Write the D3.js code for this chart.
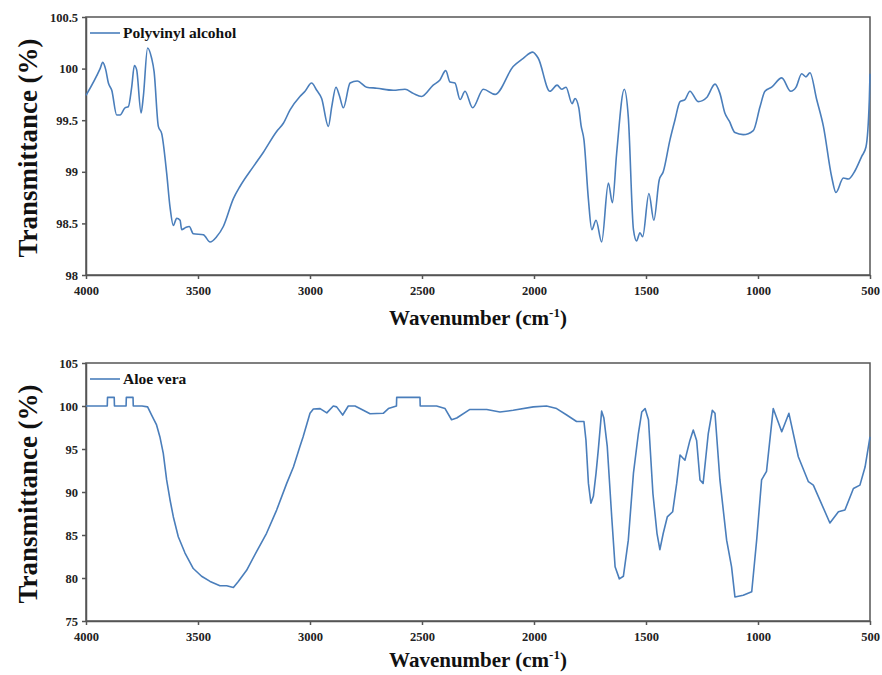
<!DOCTYPE html>
<html>
<head>
<meta charset="utf-8">
<script src="https://cdn.jsdelivr.net/npm/d3@7"></script>
<style>
  body { margin: 0; background: #fff; }
  svg text { font-family: "Liberation Serif", "DejaVu Serif", serif; font-weight: bold; }
</style>
</head>
<body>
<svg id="chart" width="882" height="675"></svg>
<script>
// x ticks shared by both panels
const xTicks = [4000, 3500, 3000, 2500, 2000, 1500, 1000, 500];

// polyvinyl alcohol spectrum (wavenumber, transmittance)
const pvaWave = [4000, 3937, 3925, 3912, 3900, 3885, 3863, 3848, 3826, 3811, 3796, 3784, 3774, 3754, 3744, 3725, 3707, 3696, 3677, 3662, 3640, 3625, 3610, 3595, 3580, 3573, 3555, 3539, 3521, 3476, 3446, 3417, 3387, 3342, 3312, 3253, 3208, 3149, 3119, 3089, 3045, 3022, 2993, 2970, 2948, 2918, 2903, 2884, 2869, 2851, 2821, 2789, 2747, 2702, 2628, 2576, 2539, 2502, 2450, 2420, 2394, 2375, 2353, 2330, 2308, 2274, 2226, 2174, 2093, 2048, 2006, 1981, 1929, 1897, 1876, 1857, 1830, 1817, 1800, 1790, 1777, 1757, 1742, 1723, 1698, 1668, 1650, 1631, 1597, 1579, 1556, 1542, 1527, 1515, 1487, 1465, 1441, 1423, 1393, 1371, 1348, 1326, 1304, 1267, 1229, 1192, 1170, 1148, 1128, 1103, 1066, 1021, 991, 969, 939, 894, 854, 830, 805, 786, 768, 738, 708, 671, 652, 619, 597, 567, 537, 518, 503, 500];
const pvaValue = [99.74, 100.0, 100.06, 99.99, 99.86, 99.79, 99.55, 99.55, 99.62, 99.63, 99.82, 100.03, 99.99, 99.57, 99.73, 100.2, 100.1, 99.97, 99.44, 99.37, 98.99, 98.66, 98.48, 98.55, 98.53, 98.44, 98.46, 98.47, 98.40, 98.39, 98.32, 98.37, 98.47, 98.74, 98.86, 99.05, 99.19, 99.39, 99.47, 99.60, 99.73, 99.78, 99.86, 99.79, 99.71, 99.44, 99.63, 99.82, 99.74, 99.62, 99.86, 99.88, 99.82, 99.81, 99.79, 99.80, 99.76, 99.73, 99.84, 99.89, 99.98, 99.87, 99.86, 99.70, 99.78, 99.62, 99.80, 99.75, 100.02, 100.10, 100.16, 100.10, 99.78, 99.84, 99.80, 99.82, 99.66, 99.71, 99.62, 99.45, 99.31, 98.73, 98.44, 98.53, 98.32, 98.89, 98.70, 99.18, 99.80, 99.53, 98.44, 98.33, 98.41, 98.37, 98.79, 98.53, 98.92, 99.00, 99.31, 99.50, 99.68, 99.70, 99.78, 99.68, 99.72, 99.85, 99.76, 99.57, 99.49, 99.38, 99.36, 99.40, 99.63, 99.78, 99.82, 99.91, 99.78, 99.82, 99.95, 99.92, 99.96, 99.70, 99.44, 98.95, 98.80, 98.94, 98.93, 99.01, 99.15, 99.24, 99.70, 99.95];

// aloe vera spectrum (wavenumber, transmittance)
const aloeWave = [4000, 3905, 3904, 3874, 3873, 3821, 3820, 3790, 3789, 3750, 3725, 3707, 3685, 3670, 3655, 3640, 3625, 3610, 3588, 3558, 3521, 3484, 3446, 3402, 3372, 3342, 3320, 3283, 3238, 3194, 3149, 3104, 3074, 3045, 3031, 3000, 2985, 2955, 2925, 2896, 2881, 2854, 2829, 2799, 2762, 2732, 2673, 2650, 2614, 2613, 2509, 2508, 2435, 2397, 2368, 2345, 2286, 2211, 2152, 2093, 2003, 1944, 1899, 1854, 1810, 1777, 1768, 1757, 1746, 1735, 1723, 1713, 1698, 1688, 1673, 1653, 1638, 1619, 1601, 1579, 1556, 1534, 1519, 1504, 1489, 1469, 1451, 1438, 1423, 1405, 1381, 1363, 1348, 1326, 1304, 1289, 1274, 1259, 1245, 1222, 1204, 1192, 1170, 1140, 1118, 1103, 1066, 1028, 1006, 984, 962, 932, 894, 862, 820, 775, 753, 679, 641, 612, 574, 545, 522, 500];
const aloeValue = [100, 100, 101, 101, 100, 100, 101, 101, 100, 100, 99.9, 98.95, 97.8, 96.4, 94.5, 91.4, 89.1, 87.1, 84.8, 82.9, 81.1, 80.2, 79.6, 79.1, 79.1, 78.9, 79.6, 80.9, 83.1, 85.2, 87.9, 91.0, 92.9, 95.3, 96.4, 99.15, 99.65, 99.7, 99.2, 100.0, 99.9, 98.95, 100.0, 100.0, 99.5, 99.1, 99.15, 99.7, 100, 101, 101, 100, 100, 99.7, 98.4, 98.6, 99.6, 99.6, 99.3, 99.5, 99.9, 100.0, 99.7, 98.95, 98.2, 98.2, 96.0, 91.0, 88.7, 89.5, 92.2, 94.9, 99.4, 98.6, 95.3, 87.1, 81.3, 79.9, 80.2, 84.4, 92.2, 96.8, 99.3, 99.7, 98.4, 89.8, 85.2, 83.3, 85.2, 87.1, 87.7, 91.0, 94.3, 93.7, 96.0, 97.2, 96.0, 91.4, 91.0, 96.8, 99.5, 99.15, 91.4, 84.4, 81.3, 77.8, 78.0, 78.4, 84.4, 91.4, 92.4, 99.7, 97.0, 99.15, 94.1, 91.2, 90.8, 86.4, 87.7, 87.9, 90.4, 90.8, 92.9, 96.4];

const pvaTicks = [98, 98.5, 99, 99.5, 100, 100.5];
const aloeTicks = [75, 80, 85, 90, 95, 100, 105];

const svg = d3.select('#chart');
const serif = '"Liberation Serif", "DejaVu Serif", serif';
const lineColor = '#4a7ebb';
const axisColor = '#555';

const x = d3.scaleLinear().domain([4000, 500]).range([86, 870]);

//draw one spectrum panel
function drawPanel(opts) {
    const y = d3.scaleLinear().domain(opts.domain).range([opts.bottom, opts.top]);
    const g = svg.append('g');

    // frame: top and right
    g.append('rect')
        .attr('x', x(4000)).attr('y', opts.top)
        .attr('width', x(500) - x(4000)).attr('height', opts.bottom - opts.top)
        .attr('fill', 'none').attr('stroke', axisColor).attr('stroke-width', 1.5);

    const xAxis = g.append('g')
        .attr('transform', `translate(0,${opts.bottom})`)
        .call(d3.axisBottom(x).tickValues(xTicks).tickSize(4).tickSizeOuter(0).tickPadding(7)
            .tickFormat(d3.format('d')));
    const yAxis = g.append('g')
        .attr('transform', `translate(${x(4000)},0)`)
        .call(d3.axisLeft(y).tickValues(opts.ticks).tickSize(4).tickSizeOuter(0).tickPadding(4)
            .tickFormat(d => String(d)));
    [xAxis, yAxis].forEach(a => {
        a.attr('font-family', serif).attr('font-size', 12.5);
        a.select('.domain').attr('stroke', axisColor).attr('stroke-width', 1.5);
        a.selectAll('.tick line').attr('stroke', axisColor).attr('stroke-width', 1.5);
        a.selectAll('.tick text')
            .attr('fill', '#222')
            .style('font-family', serif)
            .style('font-weight', 'bold');
    });

    const line = d3.line()
        .x((d, i) => x(opts.wave[i]))
        .y(d => y(d))
        .curve(opts.curve);
    g.append('path')
        .datum(opts.values)
        .attr('d', line)
        .attr('fill', 'none')
        .attr('stroke', lineColor)
        .attr('stroke-width', 1.6)
        .attr('stroke-linejoin', 'round');

    // legend
    g.append('line')
        .attr('x1', 90).attr('x2', 120)
        .attr('y1', opts.top + 16).attr('y2', opts.top + 16)
        .attr('stroke', lineColor).attr('stroke-width', 1.6);
    g.append('text')
        .attr('x', 123).attr('y', opts.top + 21)
        .attr('font-size', 15.5).attr('fill', '#111')
        .style('font-family', serif)
        .text(opts.name);

    // y title
    g.append('text')
        .attr('transform', `translate(37,${(opts.top + opts.bottom) / 2 + 2}) rotate(-90)`)
        .attr('text-anchor', 'middle')
        .attr('font-size', 27).attr('fill', '#111')
        .style('font-family', serif)
        .text('Transmittance (%)');

    // x title with superscript
    const t = g.append('text')
        .attr('x', 478).attr('y', opts.bottom + opts.titleGap)
        .attr('text-anchor', 'middle')
        .attr('font-size', 21).attr('fill', '#111')
        .style('font-family', serif);
    t.append('tspan').text('Wavenumber (cm');
    t.append('tspan').attr('font-size', 13).attr('dy', -8).text('-1');
    t.append('tspan').attr('dy', 8).text(')');
}

drawPanel({name: 'Polyvinyl alcohol', wave: pvaWave, values: pvaValue, domain: [98, 100.5],
           ticks: pvaTicks, top: 17, bottom: 275, titleGap: 50, curve: d3.curveMonotoneX});
drawPanel({name: 'Aloe vera', wave: aloeWave, values: aloeValue, domain: [75, 105],
           ticks: aloeTicks, top: 363, bottom: 621, titleGap: 46, curve: d3.curveLinear});
</script>
</body>
</html>
